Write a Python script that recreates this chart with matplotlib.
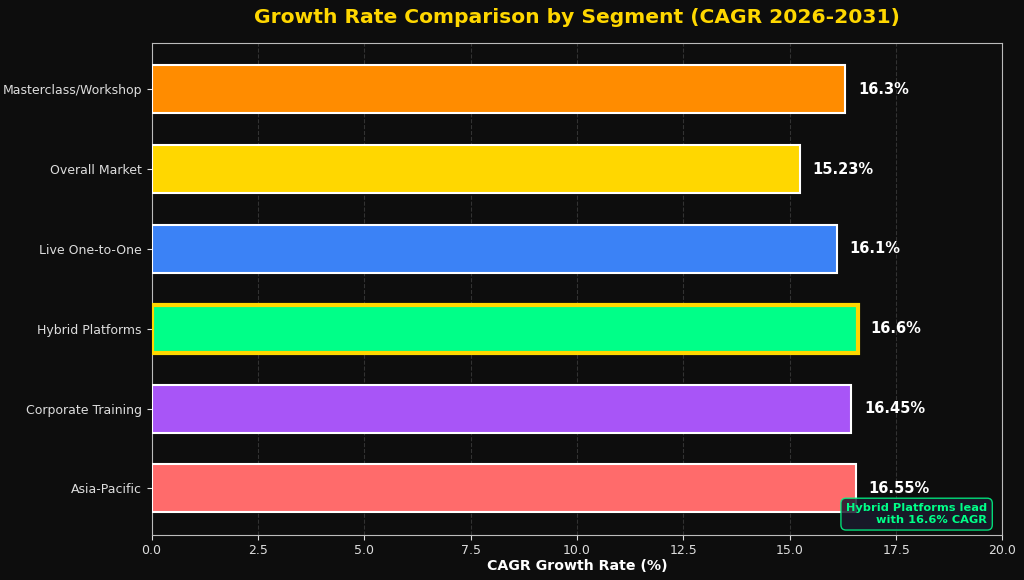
import matplotlib.pyplot as plt
import numpy as np

segments = ['Asia-Pacific', 'Corporate Training', 'Hybrid Platforms',
            'Live One-to-One', 'Overall Market', 'Masterclass/Workshop']
cagr = [16.55, 16.45, 16.6, 16.1, 15.23, 16.3]
colors = ['#FF6B6B', '#A855F7', '#00FF88', '#3B82F6', '#FFD700', '#FF8C00']
highlight = 'Hybrid Platforms'

bg = '#0d0d0d'
fig, ax = plt.subplots(figsize=(10.24, 5.8), dpi=100)
fig.patch.set_facecolor(bg)
ax.set_facecolor(bg)

y = np.arange(len(segments))
bars = ax.barh(y, cagr, height=0.6, color=colors, edgecolor='white', linewidth=1.5, zorder=3)
for bar, seg in zip(bars, segments):
    if seg == highlight:
        bar.set_edgecolor('#FFD700')
        bar.set_linewidth(3)

for yi, v in zip(y, cagr):
    ax.text(v + 0.3, yi, f'{v:g}%', va='center', ha='left', color='white',
            fontsize=10.5, fontweight='bold', zorder=4)

ax.set_yticks(y)
ax.set_yticklabels(segments)
ax.set_xlim(0, 20)
ax.tick_params(colors='#dddddd', labelsize=9)
for s in ax.spines.values():
    s.set_color('#bbbbbb')
ax.grid(axis='x', linestyle='--', color='#888888', alpha=0.3, zorder=0)

ax.set_xlabel('CAGR Growth Rate (%)', color='white', fontsize=10.2, fontweight='bold', labelpad=1)
ax.set_title('Growth Rate Comparison by Segment (CAGR 2026-2031)', color='#FFD700',
             fontsize=14.6, fontweight='bold', pad=14)

ax.text(0.982, 0.02, 'Hybrid Platforms lead\nwith 16.6% CAGR', transform=ax.transAxes,
        ha='right', va='bottom', color='#00FF88', fontsize=8.2, fontweight='bold',
        bbox=dict(boxstyle='round,pad=0.45', facecolor='#1a1a2e', edgecolor='#00FF88',
                  alpha=0.85), zorder=5)

plt.subplots_adjust(left=0.148, right=0.979, top=0.926, bottom=0.078)
plt.savefig('out.png', facecolor=bg)
